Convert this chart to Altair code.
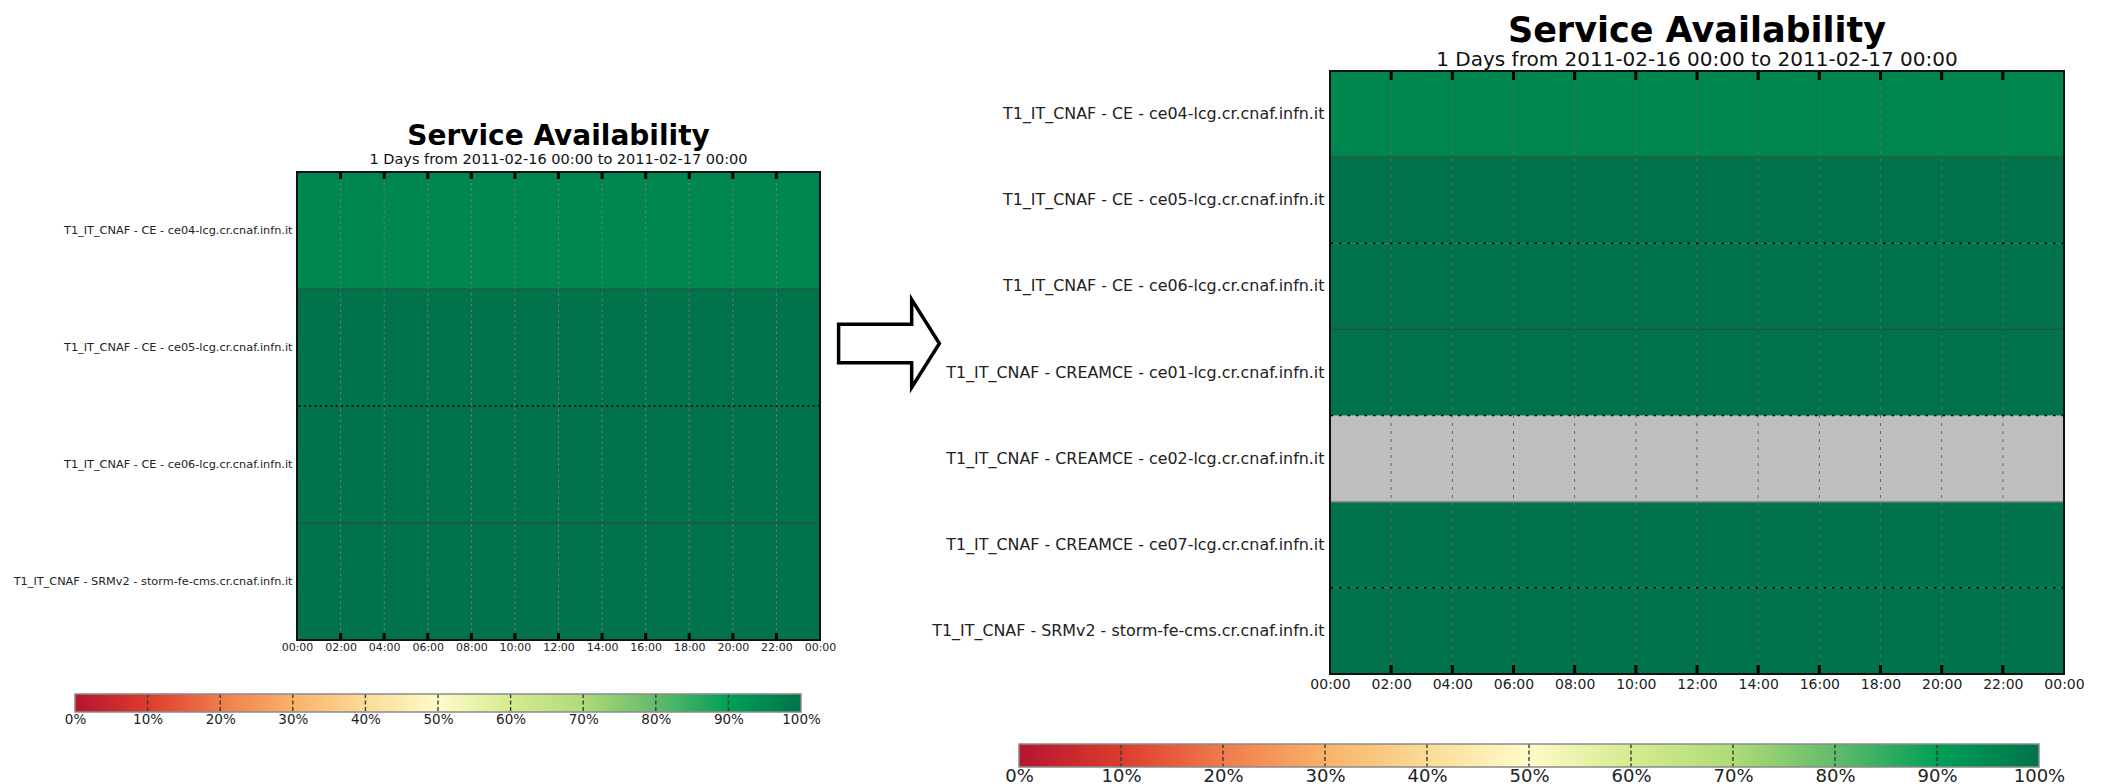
import altair as alt
import pandas as pd

FONT = "DejaVu Sans"

TITLE = "Service Availability"
SUBTITLE = "1 Days from 2011-02-16 00:00 to 2011-02-17 00:00"

CE04 = "T1_IT_CNAF - CE - ce04-lcg.cr.cnaf.infn.it"
CE05 = "T1_IT_CNAF - CE - ce05-lcg.cr.cnaf.infn.it"
CE06 = "T1_IT_CNAF - CE - ce06-lcg.cr.cnaf.infn.it"
CR01 = "T1_IT_CNAF - CREAMCE - ce01-lcg.cr.cnaf.infn.it"
CR02 = "T1_IT_CNAF - CREAMCE - ce02-lcg.cr.cnaf.infn.it"
CR07 = "T1_IT_CNAF - CREAMCE - ce07-lcg.cr.cnaf.infn.it"
SRM = "T1_IT_CNAF - SRMv2 - storm-fe-cms.cr.cnaf.infn.it"

# left (before) chart
LEFT_HOSTS = [CE04, CE05, CE06, SRM]
LEFT_AVAIL = [0.955, 1.0, 1.0, 1.0]
LEFT_DOTTED = [CE06]
LEFT_SOLID = [CE05, SRM]
LEFT_LIGHT = []

# right (after) chart; None = no data (grey)
RIGHT_HOSTS = [CE04, CE05, CE06, CR01, CR02, CR07, SRM]
RIGHT_AVAIL = [0.955, 1.0, 1.0, 1.0, None, 1.0, 1.0]
RIGHT_DOTTED = [CE06, CR02, SRM]
RIGHT_SOLID = [CE05, CR01]
RIGHT_LIGHT = [CR07]

DAY_START = 0
DAY_END = 24
HOUR_LABELS = list(range(0, 25, 2))
INNER_HOURS = list(range(2, 24, 2))
HOUR_EXPR = "(datum.value % 24 < 10 ? '0' : '') + (datum.value % 24) + ':00'"

CBAR_PCT = list(range(0, 101, 10))
CBAR_STOPS = [p / 100 for p in CBAR_PCT]
CBAR_COLORS = ["#b5152f", "#dc3c2d", "#f07b4c", "#f9b26a", "#fadc97", "#fffbc9",
               "#d5eb8f", "#aedb78", "#62bb6b", "#00a057", "#00734a"]

ARROW = "M -1 -0.38 L 0.45 -0.38 L 0.45 -0.87 L 1 0 L 0.45 0.87 L 0.45 0.38 L -1 0.38 Z"

LST = dict(xl=11, xpad=1.5, yl=11.3, ypad=5, tick=7, grid_color="#777777", grid_dash=[2.5, 3],
           dot_dash=[2, 3.3], title=28, sub=14.5, off=4, subpad=2, cl=13.5, cpad=0)
RST = dict(xl=14, xpad=3, yl=15.9, ypad=6, tick=9, grid_color="#666666", grid_dash=[3, 5],
           dot_dash=[2.5, 6], title=35, sub=20, off=0, subpad=0.5, cl=18, cpad=0)


def invisible_rule(x1, y1, x2, y2):
    return alt.Chart(pd.DataFrame({"k": [0]})).mark_rule(opacity=0, strokeWidth=0).encode(
        x=alt.value(x1), x2=alt.value(x2), y=alt.value(y1), y2=alt.value(y2))


def spacer(w, h):
    return invisible_rule(0, 0, w, h).properties(width=w, height=h)


def heat_chart(hosts, avail, dotted, solid, light, W, H, st, frame, extra=()):
    df = pd.DataFrame({"host": hosts, "avail": avail,
                       "start": [DAY_START] * len(hosts), "end": [DAY_END] * len(hosts)})
    xs = alt.Scale(domain=[DAY_START, DAY_END], nice=False, zero=False)
    ys = alt.Scale(type="band", domain=hosts, paddingInner=0, paddingOuter=0)
    xaxis = alt.Axis(values=HOUR_LABELS, labelExpr=HOUR_EXPR, title=None, grid=False,
                     ticks=False, domain=False, labelFontSize=st["xl"],
                     labelPadding=st["xpad"], labelColor="#222222", labelFont=FONT,
                     labelOverlap=False, labelFlush=False)
    yaxis = alt.Axis(title=None, ticks=False, domain=False, grid=False,
                     labelFontSize=st["yl"], labelPadding=st["ypad"], labelColor="#222222",
                     labelFont=FONT, labelLimit=800)

    def X(field):
        return alt.X(field, scale=xs, axis=xaxis)

    def Y(field, **kw):
        return alt.Y(field, scale=ys, axis=yaxis, **kw)

    base = alt.Chart(df)
    gray = base.mark_rect(color="#bebebe").encode(x=X("start:Q"), x2="end:Q", y=Y("host:N"))
    green = base.transform_filter("isValid(datum.avail)").mark_rect().encode(
        x=X("start:Q"), x2="end:Q", y=Y("host:N"),
        color=alt.Color("avail:Q", scale=alt.Scale(domain=CBAR_STOPS, range=CBAR_COLORS,
                                                  interpolate="rgb"), legend=None))
    hours = pd.DataFrame({"hour": INNER_HOURS})
    grid = alt.Chart(hours).mark_rule(color=st["grid_color"], strokeDash=st["grid_dash"],
                                      strokeWidth=1).encode(x=X("hour:Q"))
    top_t = alt.Chart(hours).mark_rule(color="black", strokeWidth=3).encode(
        x=X("hour:Q"), y=alt.value(0), y2=alt.value(st["tick"]))
    bot_t = alt.Chart(hours).mark_rule(color="black", strokeWidth=3).encode(
        x=X("hour:Q"), y=alt.value(H - st["tick"]), y2=alt.value(H))

    def sep(hlist, **kw):
        return alt.Chart(pd.DataFrame({"host": hlist})).mark_rule(**kw).encode(
            y=Y("host:N", bandPosition=0))

    layers = [gray, green, grid]
    if solid:
        layers.append(sep(solid, color="#2e4a3c", strokeWidth=1.2))
    if light:
        layers.append(sep(light, color="#8a8a8a", strokeWidth=1.5))
    if dotted:
        layers.append(sep(dotted, color="black", strokeWidth=1.5, strokeDash=st["dot_dash"]))
    border = base.transform_filter(alt.datum.host == hosts[0]).mark_rect(
        fillOpacity=0, stroke="#111111", strokeWidth=2).encode(x=X("start:Q"), x2="end:Q")
    layers += [top_t, bot_t, border, invisible_rule(*frame)] + list(extra)
    return alt.layer(*layers).properties(
        width=W, height=H,
        title=alt.TitleParams(text=TITLE, subtitle=SUBTITLE, font=FONT, subtitleFont=FONT,
                              fontSize=st["title"], subtitleFontSize=st["sub"],
                              fontWeight="bold", subtitleFontWeight="normal",
                              color="black", subtitleColor="#111111",
                              anchor="middle", frame="group", offset=st["off"],
                              subtitlePadding=st["subpad"]))


def colorbar(W, H, st):
    cb = pd.DataFrame({"lo": [CBAR_PCT[0]], "hi": [CBAR_PCT[-1]]})
    xs = alt.Scale(domain=[CBAR_PCT[0], CBAR_PCT[-1]], nice=False, zero=False)
    axis = alt.Axis(values=CBAR_PCT, labelExpr="datum.value + '%'", title=None, grid=False,
                    ticks=False, domain=False, labelFontSize=st["cl"],
                    labelPadding=st["cpad"], labelColor="#222222", labelFont=FONT,
                    labelOverlap=False, labelFlush=False)

    def X(field):
        return alt.X(field, scale=xs, axis=axis)

    grad = alt.Chart(cb).mark_rect(color=alt.Gradient(
        gradient="linear",
        stops=[alt.GradientStop(offset=s, color=c) for s, c in zip(CBAR_STOPS, CBAR_COLORS)],
        x1=0, x2=1, y1=0, y2=0)).encode(x=X("lo:Q"), x2="hi:Q")
    ticks = alt.Chart(pd.DataFrame({"p": CBAR_PCT[1:-1]})).mark_rule(
        color="#3a3a3a", strokeDash=[4, 2.5], strokeWidth=1.4).encode(x=X("p:Q"))
    border = alt.Chart(cb).mark_rect(fillOpacity=0, stroke="#8a8a8a", strokeWidth=1.5).encode(
        x=X("lo:Q"), x2="hi:Q")
    return alt.layer(grad, ticks, border).properties(width=W, height=H)


arrow = alt.Chart(pd.DataFrame({"k": [0]})).mark_point(
    shape=ARROW, size=10160, filled=True, fill="white", stroke="black", strokeWidth=3.5,
    opacity=1, fillOpacity=1, strokeOpacity=1, strokeJoin="miter").encode(
    x=alt.value(-441), y=alt.value(272.5))

LW, LH = 523, 468
RW, RH = 734, 603

left_heat = heat_chart(LEFT_HOSTS, LEFT_AVAIL, LEFT_DOTTED, LEFT_SOLID, LEFT_LIGHT, LW, LH, LST,
                       frame=(-288, LH / 2, 544, LH + 22))
left_cbar = colorbar(726, 18, LST)
right_heat = heat_chart(RIGHT_HOSTS, RIGHT_AVAIL, RIGHT_DOTTED, RIGHT_SOLID, RIGHT_LIGHT, RW, RH,
                        RST, frame=(-502, RH / 2, 750, RH + 25), extra=[arrow])
right_cbar = colorbar(1020, 23, RST)

left_row = alt.hconcat(spacer(1, 1), left_heat, spacing=-69)
right_row = alt.hconcat(spacer(1, 1), right_heat, spacing=-194)

left_col = alt.vconcat(spacer(1, 21), left_row, left_cbar, spacing=29)
right_col = alt.vconcat(right_row, right_cbar, spacing=42)

chart = alt.hconcat(left_col, right_col, spacing=-15).properties(
    padding={"left": 0, "top": 5, "right": 0, "bottom": 0}
).configure(font=FONT).configure_view(stroke="transparent")

chart.save("out.html", embed_options={"renderer": "svg", "actions": False})
